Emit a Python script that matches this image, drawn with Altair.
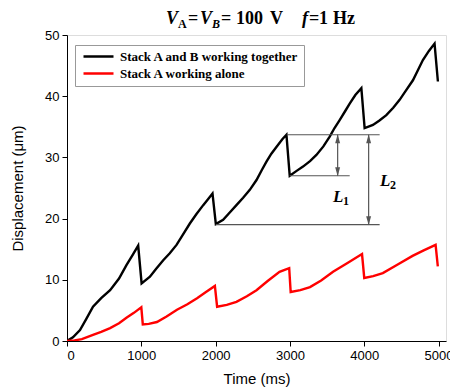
import altair as alt
import pandas as pd

# ---------------- data ----------------
series_names = ["Stack A and B working together", "Stack A working alone"]
series_colors = ["#000000", "#ff0000"]

t_ab = [0, 80, 175, 260, 350, 460, 580, 700, 800, 880, 958,
        1004, 1116, 1200, 1295, 1380, 1474, 1560, 1653, 1740, 1833, 1900, 1958,
        2003, 2101, 2190, 2280, 2370, 2460, 2550, 2620, 2684, 2750, 2818, 2900, 2953,
        2997, 3090, 3176, 3270, 3356, 3450, 3535, 3600, 3669, 3740, 3804, 3880, 3961,
        4005, 4117, 4200, 4297, 4390, 4476, 4560, 4655, 4720, 4789, 4870, 4946,
        4991]
d_ab = [0, 0.6, 1.8, 3.6, 5.6, 7.0, 8.3, 10.2, 12.4, 14.0, 15.6,
        9.4, 10.5, 11.8, 13.2, 14.3, 15.7, 17.4, 19.2, 20.7, 22.2, 23.2, 24.1,
        19.1, 19.8, 21.0, 22.2, 23.4, 24.7, 26.3, 27.9, 29.3, 30.6, 31.7, 33.0, 33.7,
        27.0, 27.8, 28.5, 29.4, 30.4, 31.8, 33.4, 34.8, 36.1, 37.5, 38.8, 40.2, 41.3,
        34.8, 35.3, 36.0, 36.9, 38.1, 39.4, 40.9, 42.6, 44.2, 45.9, 47.4, 48.6,
        42.4]

t_a = [0, 100, 200, 350, 460, 580, 700, 800, 900, 1000,
       1020, 1100, 1210, 1340, 1480, 1620, 1750, 1870, 1990,
       2020, 2150, 2280, 2420, 2550, 2700, 2860, 2990,
       3010, 3140, 3270, 3420, 3580, 3780, 3970,
       4000, 4120, 4250, 4450, 4650, 4800, 4960,
       4990]
d_a = [0, 0.1, 0.3, 1.0, 1.5, 2.1, 2.9, 3.8, 4.6, 5.5,
       2.7, 2.8, 3.1, 4.0, 5.1, 6.0, 7.0, 8.0, 9.0,
       5.6, 5.9, 6.4, 7.3, 8.3, 9.8, 11.3, 11.9,
       8.0, 8.3, 8.8, 9.9, 11.3, 12.8, 14.2,
       10.3, 10.6, 11.1, 12.5, 13.9, 14.8, 15.7,
       12.2]

# annotation levels
h_x = [2957, 2997, 2003]
h_x2 = [4207, 3804, 4207]
h_y = [33.7, 27.0, 19.0]
v_x = [3642, 4059]
v_y = [33.7, 33.7]
v_y2 = [27.0, 19.0]

df = pd.concat([
    pd.DataFrame({"t": t_ab, "d": d_ab, "series": series_names[0]}),
    pd.DataFrame({"t": t_a, "d": d_a, "series": series_names[1]}),
])

xscale = alt.Scale(domain=[0, 5100], nice=False, zero=False)
yscale = alt.Scale(domain=[0, 50], nice=False, zero=False)

lab_font = "Liberation Sans"

x_axis = alt.Axis(
    values=list(range(0, 5001, 500)),
    labelExpr="datum.value % 1000 === 0 ? datum.label : ''",
    format="d",
    tickSize={"condition": {"test": "datum.value % 1000 === 0", "value": 5}, "value": 3},
    tickColor="black", domainColor="black", labelColor="black",
    labelFont=lab_font, labelFontSize=13, labelPadding=3,
    titleFont=lab_font, titleFontSize=15, titleFontWeight="normal", titleColor="black",
    titlePadding=9, grid=False,
)
y_axis = alt.Axis(
    values=list(range(0, 51, 5)),
    labelExpr="datum.value % 10 === 0 ? datum.label : ''",
    tickSize={"condition": {"test": "datum.value % 10 === 0", "value": 5}, "value": 3},
    tickColor="black", domainColor="black", labelColor="black",
    labelFont=lab_font, labelFontSize=13, labelPadding=3,
    titleFont=lab_font, titleFontSize=15, titleFontWeight="normal", titleColor="black",
    titlePadding=19, grid=False,
)

lines = alt.Chart(df).mark_line(strokeWidth=2.4, interpolate="linear", clip=True).encode(
    x=alt.X("t:Q", scale=xscale, axis=x_axis, title="Time (ms)"),
    y=alt.Y("d:Q", scale=yscale, axis=y_axis, title="Displacement (μm)"),
    color=alt.Color(
        "series:N",
        scale=alt.Scale(domain=series_names, range=series_colors),
        legend=alt.Legend(
            orient="none", legendX=8, legendY=10, title=None,
            symbolType="M-3,0H3", symbolSize=100, symbolStrokeWidth=2.5,
            symbolOffset=12,
            labelFont="Liberation Serif", labelFontWeight="bold", labelFontSize=13,
            labelColor="black", strokeColor="#999999", fillColor="white",
            padding=5, rowPadding=3, labelOffset=15, labelLimit=400,
        ),
    ),
)

ann_color = "#555555"
hdf = pd.DataFrame({"x": h_x, "x2": h_x2, "y": h_y})
vdf = pd.DataFrame({"x": v_x, "y": v_y, "y2": v_y2})

hrules = alt.Chart(hdf).mark_rule(color=ann_color, strokeWidth=1.2).encode(
    x=alt.X("x:Q", scale=xscale), x2="x2:Q", y=alt.Y("y:Q", scale=yscale)
)
vrules = alt.Chart(vdf).mark_rule(color=ann_color, strokeWidth=1.2).encode(
    x=alt.X("x:Q", scale=xscale), y=alt.Y("y:Q", scale=yscale), y2="y2:Q"
)
up_heads = alt.Chart(vdf).mark_point(
    shape="M0,-1L0.55,1L-0.55,1Z", filled=True, color=ann_color, opacity=1, size=80, yOffset=4
).encode(x=alt.X("x:Q", scale=xscale), y=alt.Y("y:Q", scale=yscale))
down_heads = alt.Chart(vdf).mark_point(
    shape="M0,1L0.55,-1L-0.55,-1Z", filled=True, color=ann_color, opacity=1, size=80, yOffset=-4
).encode(x=alt.X("x:Q", scale=xscale), y=alt.Y("y2:Q", scale=yscale))

lab_df = pd.DataFrame({"x": [3580, 4213], "y": [22.7, 25.3], "sub": ["1", "2"]})
L_text = alt.Chart(lab_df).mark_text(
    text="L", font="Liberation Serif", fontStyle="italic", fontWeight="bold",
    fontSize=17, align="left", baseline="alphabetic", color="black"
).encode(x=alt.X("x:Q", scale=xscale), y=alt.Y("y:Q", scale=yscale))
sub_text = alt.Chart(lab_df).mark_text(
    font="Liberation Serif", fontWeight="bold", fontSize=12, align="left",
    baseline="alphabetic", color="black", dx=10, dy=3
).encode(x=alt.X("x:Q", scale=xscale), y=alt.Y("y:Q", scale=yscale), text="sub:N")

# title pieces: V_A = V_B = 100 V   f =1 Hz  (x relative to plot origin)
serif = "Liberation Serif"
title_parts = [
    ("V", 99, -11, 18, "italic"),
    ("A", 111, -7, 12, "normal"),
    ("=", 121, -11, 18, "normal"),
    ("V", 133, -11, 18, "italic"),
    ("B", 145, -7, 12, "italic"),
    ("=", 154, -11, 18, "normal"),
    ("100", 169, -11, 18, "normal"),
    ("V", 203, -11, 18, "normal"),
    ("f", 235, -11, 18, "italic"),
    ("=", 242, -11, 18, "normal"),
    ("1", 252, -11, 18, "normal"),
    ("Hz", 266, -11, 18, "normal"),
]
title_layers = [
    alt.Chart(pd.DataFrame({"a": [0]})).mark_text(
        text=txt, font=serif, fontWeight="bold", fontStyle=style, fontSize=fs,
        align="left", baseline="alphabetic", color="black"
    ).encode(x=alt.value(px), y=alt.value(py))
    for txt, px, py, fs, style in title_parts
]

chart = alt.layer(lines, hrules, vrules, up_heads, down_heads, L_text, sub_text, *title_layers).properties(
    width=379, height=306,
    padding={"left": 67, "top": 35, "right": 4, "bottom": 51},
    autosize=alt.AutoSizeParams(type="none"),
).configure_view(stroke="black", strokeWidth=1).configure(background="white")

chart.save("out.html", embed_options={"renderer": "svg", "actions": False})
